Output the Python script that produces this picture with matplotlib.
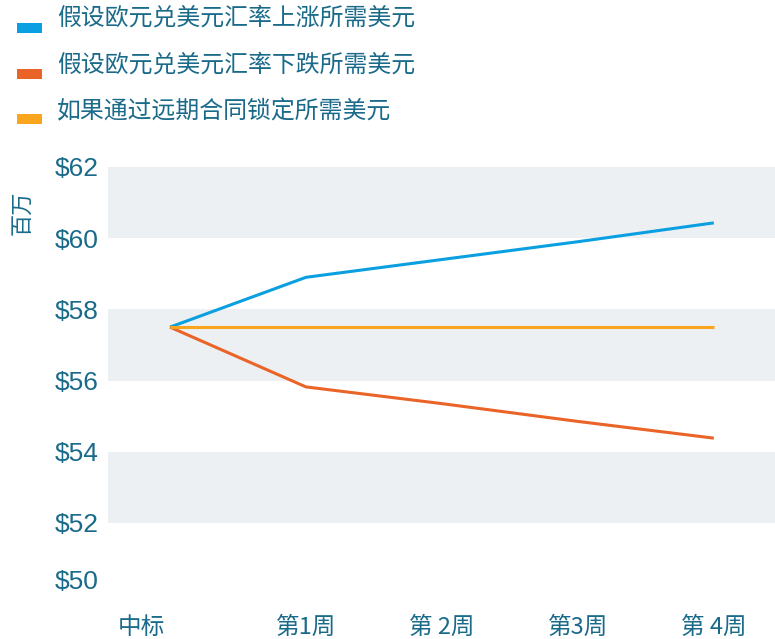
import numpy as np
import matplotlib
matplotlib.use('Agg')
import matplotlib.pyplot as plt
from matplotlib.patches import Rectangle

plt.rcParams['font.family'] = ['Noto Sans CJK SC', 'DejaVu Sans']

# datos
categorias = ['中标', '第1周', '第 2周', '第3周', '第 4周']
sube = [57.5, 58.9, 59.4, 59.9, 60.43]      # euro sube
baja = [57.5, 55.82, 55.35, 54.85, 54.38]   # euro baja
forward = [57.5, 57.5, 57.5, 57.5, 57.5]    # contrato a plazo
y_ticks = [50, 52, 54, 56, 58, 60, 62]
series_labels = ['假设欧元兑美元汇率上涨所需美元',
                 '假设欧元兑美元汇率下跌所需美元',
                 '如果通过远期合同锁定所需美元']
colores = ['#0a9fe0', '#ea6428', '#f9a61e']
texto = '#1a6a8a'
banda = '#edf0f3'

W, H = 775, 639
fig = plt.figure(figsize=(W / 100, H / 100), dpi=100)
ax = fig.add_axes([108 / W, 1 - 594 / H, 1 - 108 / W, (594 - 167) / H])

x = np.arange(len(categorias))
for serie, c in zip([sube, baja, forward], colores):
    ax.plot(x, serie, color=c, lw=2.2, solid_capstyle='butt', zorder=3)

# bandas grises alternas
for lo in y_ticks[1::2]:
    ax.axhspan(lo, lo + 2, color=banda, lw=0, zorder=0)

ax.set_xlim(-0.456, 4.45)
ax.set_ylim(50, 62)
ax.set_yticks(y_ticks)
ax.set_yticklabels([f'${v}' for v in y_ticks], family='Liberation Sans',
                   fontsize=19, color=texto)
# el rótulo $50 va un poco por encima de su línea
ax.get_yticklabels()[0].set_va('bottom')
pos = x.astype(float)
pos[0] -= 0.21
ax.set_xticks(pos)
ax.set_xticklabels(categorias, fontsize=17, color=texto)
ax.tick_params(axis='y', length=0, pad=7)
ax.tick_params(axis='x', length=0, pad=16)
for s in ax.spines.values():
    s.set_visible(False)

fig.text(22 / W, 1 - 213 / H, '百万', rotation=90, fontsize=16,
         color=texto, ha='center', va='center')

# leyenda manual
for i, (lab, c) in enumerate(zip(series_labels, colores)):
    ty = 18 + i * 47
    my = 23 + i * 45.5
    fig.add_artist(Rectangle((17 / W, 1 - (my + 10) / H), 25 / W, 10 / H,
                             transform=fig.transFigure, color=c, lw=0))
    fig.text(57 / W, 1 - ty / H, lab, fontsize=17.2, color=texto,
             ha='left', va='center')

plt.savefig('out.png', dpi=100)
